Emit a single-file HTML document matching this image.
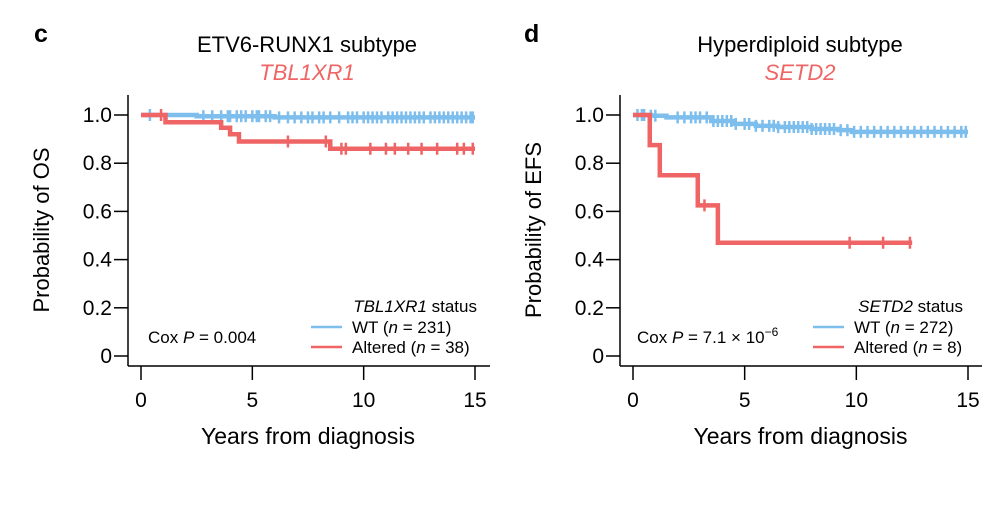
<!DOCTYPE html>
<html><head><meta charset="utf-8"><style>
body{margin:0;background:#fff;}
svg{display:block;font-family:"Liberation Sans",Arial,sans-serif;}
</style></head><body>
<svg id="c" width="997" height="520" viewBox="0 0 997 520"></svg>
<script>
// Panel c data: [time, survival] step points
const cAlteredSteps=[[0,1],[1.1,0.97],[3.6,0.947],[4.0,0.92],[4.4,0.89],[8.5,0.86],[15,0.86]];
const cAlteredCensor=[0.9,6.6,8.3,9.0,9.2,10.3,11.0,11.4,12.0,12.6,13.3,14.2,14.5,14.9];
const cWTSteps=[[0,1],[2.5,0.995],[6.0,0.99],[15,0.99]];
const cWTCensor=[0.4,2.8,3.2,3.6,3.9,4.0,4.3,4.5,4.7,5.0,5.2,5.3,5.6,5.8,6.2,6.6,6.9,7.2,7.5,7.7,8.0,8.2,8.5,8.9,9.3,9.5,9.7,10.0,10.2,10.4,10.6,10.8,11.1,11.3,11.5,11.7,11.9,12.1,12.3,12.5,12.7,13.0,13.2,13.4,13.6,13.8,14.0,14.2,14.4,14.6,14.8,14.9];
// Panel d data
const dAlteredSteps=[[0,1],[0.75,0.875],[1.2,0.75],[2.9,0.625],[3.8,0.47],[12.5,0.47]];
const dAlteredCensor=[3.2,9.7,11.2,12.4];
const dWTSteps=[[0,1],[0.8,0.997],[1.5,0.99],[3.5,0.975],[4.5,0.963],[5.5,0.955],[6.5,0.95],[8.0,0.942],[9.2,0.937],[9.8,0.93],[15,0.93]];
const dWTCensor=[0.2,0.4,0.5,0.8,1.0,2.0,2.3,2.6,2.8,3.0,3.3,3.6,3.8,4.0,4.2,4.4,4.6,5.0,5.2,5.5,5.8,6.1,6.3,6.5,6.8,7.0,7.2,7.4,7.6,7.8,8.0,8.2,8.4,8.6,8.8,9.0,9.3,9.6,9.9,10.2,10.5,10.8,11.1,11.4,11.7,12.0,12.3,12.6,12.9,13.2,13.5,13.8,14.1,14.4,14.7,14.9];
const xTicks=[0,5,10,15];
const yTicks=[0,0.2,0.4,0.6,0.8,1.0];
const yTickLabels=["0","0.2","0.4","0.6","0.8","1.0"];

const NS="http://www.w3.org/2000/svg";
const svg=document.getElementById('c');
const RED="#EF6464",BLUE="#7DBEED";
function mk(tag,attrs,parent,text){const e=document.createElementNS(NS,tag);for(const k in attrs)e.setAttribute(k,attrs[k]);if(text!==undefined)e.textContent=text;(parent||svg).appendChild(e);return e;}

function panel(o){
  const g=mk('g',{});
  
  
  const X=t=>o.x0+(o.x15-o.x0)*t/15;
  const Y=v=>o.y0+(o.y1-o.y0)*v;
  const ya=mk('line',{x1:o.ax,y1:95,x2:o.ax,y2:366,stroke:'#000','stroke-width':1.5},g);
  
  
  const xa=mk('line',{x1:o.ax,y1:366,x2:o.ax+362,y2:366,stroke:'#000','stroke-width':1.5},g);
  
  
  xTicks.forEach(t=>{
    mk('line',{x1:X(t),y1:366,x2:X(t),y2:380,stroke:'#000','stroke-width':1.5},g);
    const l=mk('text',{x:X(t),y:407,'font-size':21,'text-anchor':'middle'},g,String(t));
    
    
  });
  yTicks.forEach((v,i)=>{
    mk('line',{x1:o.ax,y1:Y(v),x2:o.ax-14,y2:Y(v),stroke:'#000','stroke-width':1.5},g);
    const l=mk('text',{x:o.ax-16,y:Y(v)+7,'font-size':21,'text-anchor':'end'},g,yTickLabels[i]);
    
    
  });
  function curve(steps,cens,col,nm){
    let d='M'+X(steps[0][0])+','+Y(steps[0][1]);
    for(let i=1;i<steps.length;i++){d+='H'+X(steps[i][0])+'V'+Y(steps[i][1]);}
    const p=mk('path',{d:d,fill:'none',stroke:col,'stroke-width':4.5},g);
    
    
    cens.forEach(t=>{
      let v=steps[0][1];
      for(const s of steps){if(s[0]<=t)v=s[1];}
      const m=mk('line',{x1:X(t),y1:Y(v)-6,x2:X(t),y2:Y(v)+6,stroke:col,'stroke-width':2.5},g);
      
      
    });
  }
  curve(o.wt,o.wtc,BLUE,'wt');
  curve(o.alt,o.altc,RED,'altered');
  const t1=mk('text',{x:o.tx,y:52,'font-size':22,'text-anchor':'middle'},g,o.title);
  
  
  const t2=mk('text',{x:o.tx,y:80,'font-size':22,'text-anchor':'middle',fill:RED,'font-style':'italic'},g,o.gene);
  
  
  const pl=mk('text',{x:o.lx,y:42,'font-size':25,'font-weight':'bold'},g,o.letter);
  
  
  const yl=mk('text',{transform:`translate(${o.ax-79},230) rotate(-90)`,'font-size':22,'text-anchor':'middle'},g,o.ylabel);
  
  
  const xl=mk('text',{x:(X(0)+X(15))/2,y:444,'font-size':23,'text-anchor':'middle'},g,'Years from diagnosis');
  
  
  const lh=mk('text',{x:o.legR,y:312,'font-size':17,'text-anchor':'end'},g);
  
  
  mk('tspan',{'font-style':'italic'},lh,o.gene);
  mk('tspan',{},lh,' status');
  [[BLUE,'WT',o.nwt,327],[RED,'Altered',o.nalt,347]].forEach(r=>{
    const lg=mk('g',{},g);
    
    
    mk('line',{x1:o.legL,y1:r[3],x2:o.legL+31,y2:r[3],stroke:r[0],'stroke-width':2.5},lg);
    const tx=mk('text',{x:o.legL+41,y:r[3]+6,'font-size':17},lg);
    mk('tspan',{},tx,r[1]+' (');
    mk('tspan',{'font-style':'italic'},tx,'n');
    mk('tspan',{},tx,' = '+r[2]+')');
  });
  const cx=mk('text',{x:o.coxX,y:343,'font-size':17},g);
  
  
  mk('tspan',{},cx,'Cox ');
  mk('tspan',{'font-style':'italic'},cx,'P');
  mk('tspan',{},cx,' = '+o.p);
  if(o.exp){mk('tspan',{'font-size':12,dy:-7},cx,o.exp);}
}
panel({name:'panel-c',letter:'c',lx:34,ax:128,x0:141,x15:475,y0:356,y1:115,tx:307,title:'ETV6-RUNX1 subtype',gene:'TBL1XR1',ylabel:'Probability of OS',
  wt:cWTSteps,wtc:cWTCensor,alt:cAlteredSteps,altc:cAlteredCensor,legR:477,legL:311,nwt:231,nalt:38,coxX:148,p:'0.004'});
panel({name:'panel-d',letter:'d',lx:524,ax:620,x0:633,x15:968,y0:356,y1:115,tx:800,title:'Hyperdiploid subtype',gene:'SETD2',ylabel:'Probability of EFS',
  wt:dWTSteps,wtc:dWTCensor,alt:dAlteredSteps,altc:dAlteredCensor,legR:963,legL:813,nwt:272,nalt:8,coxX:637,p:'7.1 × 10',exp:'−6'});
</script>
</body></html>
